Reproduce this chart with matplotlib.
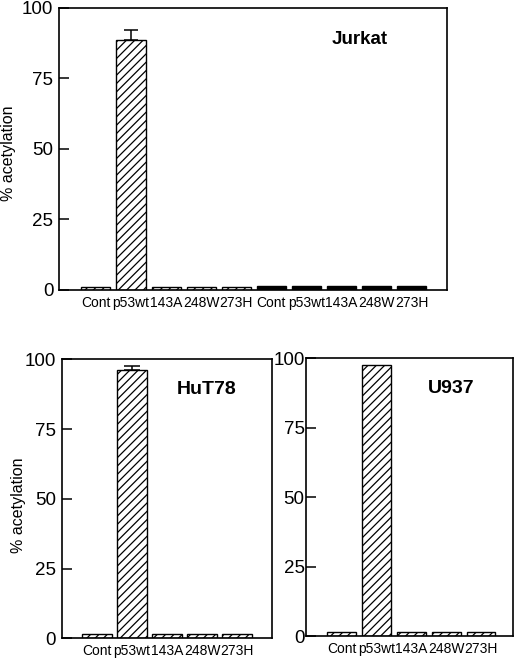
import numpy as np
import matplotlib.pyplot as plt

plt.rcParams['font.family'] = ['Liberation Sans', 'DejaVu Sans']

# Jurkat: first five hatched, next five solid
jurkat_labels = ["Cont", "p53wt", "143A", "248W", "273H", "Cont", "p53wt", "143A", "248W", "273H"]
jurkat_vals = [1.2, 88.6, 1.2, 1.2, 1.2, 1.5, 1.5, 1.5, 1.5, 1.5]
jurkat_err = [0, 3.6, 0, 0, 0, 0, 0, 0, 0, 0]

labels5 = ["Cont", "p53wt", "143A", "248W", "273H"]
hut_vals = [1.4, 96.2, 1.4, 1.5, 1.5]
hut_err = [0, 1.4, 0, 0, 0]
u937_vals = [1.5, 97.6, 1.5, 1.5, 1.5]

fig = plt.figure(figsize=(5.2, 6.61), dpi=100)


def style_axes(ax, xlim, ypad=4):
    ax.set_ylim(0, 100)
    ax.set_xlim(*xlim)
    ax.set_yticks([0, 25, 50, 75, 100])
    ax.tick_params(axis='y', direction='in', length=7, width=1.1, labelsize=13.5, pad=ypad)
    ax.tick_params(axis='x', length=0, labelsize=10, pad=4)
    for s in ax.spines.values():
        s.set_linewidth(1.2)


def draw_bars(ax, vals, err, solid_from=None, capsize=5):
    x = np.arange(len(vals))
    for i, v in enumerate(vals):
        solid = solid_from is not None and i >= solid_from
        ax.bar(x[i], v, width=0.83, color='black' if solid else 'white',
               edgecolor='black', linewidth=1.0, hatch=None if solid else '////')
        if err[i] > 0:
            ax.errorbar(x[i], v, yerr=[[0], [err[i]]], fmt='none', ecolor='black',
                        elinewidth=1.1, capsize=capsize, capthick=1.1)


plt.rcParams['hatch.linewidth'] = 0.9

# top panel
ax1 = fig.add_axes([0.1135, 0.5613, 0.746, 0.4266])
draw_bars(ax1, jurkat_vals, jurkat_err, solid_from=5)
style_axes(ax1, (-1.05, 10.0))
ax1.set_xticks(np.arange(len(jurkat_labels)))
ax1.set_xticklabels(jurkat_labels)
fig.text(9 / 520, 1 - 153 / 661, "% acetylation", rotation=90, fontsize=11.5,
         ha='center', va='center')
ax1.text(0.776, 0.89, "Jurkat", transform=ax1.transAxes, ha='center', va='center',
         fontsize=13.5, fontweight='bold')

# bottom left
ax2 = fig.add_axes([0.1186, 0.0343, 0.4038, 0.422])
draw_bars(ax2, hut_vals, hut_err, capsize=6)
style_axes(ax2, (-1.01, 4.99))
ax2.set_xticks(np.arange(5))
ax2.set_xticklabels(labels5)
fig.text(19 / 520, 1 - 505 / 661, "% acetylation", rotation=90, fontsize=11.5,
         ha='center', va='center')
ax2.text(0.69, 0.893, "HuT78", transform=ax2.transAxes, ha='center', va='center',
         fontsize=14, fontweight='bold')

# bottom right
ax3 = fig.add_axes([0.5885, 0.0378, 0.3987, 0.420])
draw_bars(ax3, u937_vals, [0] * 5)
style_axes(ax3, (-1.03, 4.93), ypad=1)
ax3.set_xticks(np.arange(5))
ax3.set_xticklabels(labels5)
ax3.text(0.70, 0.893, "U937", transform=ax3.transAxes, ha='center', va='center',
         fontsize=14, fontweight='bold')

fig.savefig("out.png", dpi=100)
